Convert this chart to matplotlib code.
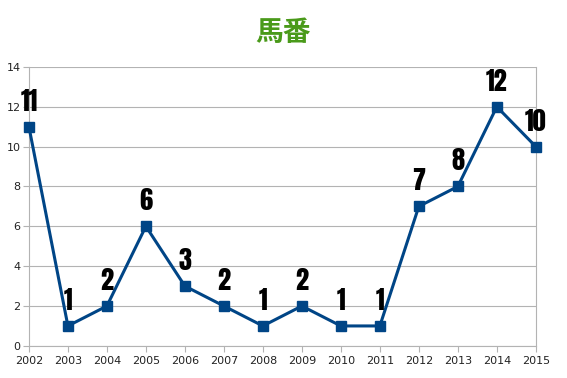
import matplotlib
matplotlib.use("Agg")
import matplotlib.pyplot as plt

years = [2002, 2003, 2004, 2005, 2006, 2007, 2008, 2009, 2010, 2011, 2012, 2013, 2014, 2015]
values = [11, 1, 2, 6, 3, 2, 1, 2, 1, 1, 7, 8, 12, 10]
title = "馬番"

fig = plt.figure(figsize=(5.67, 3.78), dpi=100)
ax = fig.add_axes([0.051, 0.085, 0.894, 0.738])

ax.plot(years, values, color="#004586", lw=2.2, marker="s", markersize=7, zorder=3, clip_on=False)
for x, v in zip(years, values):
    ax.annotate(str(v), (x, v), xytext=(0, 11.5), textcoords="offset points",
                ha="center", va="baseline", fontsize=19,
                family=["Anton", "DejaVu Sans"], color="black", zorder=4)

ax.set_xlim(2002, 2015)
ax.set_ylim(0, 14)
ax.set_xticks(years)
ax.set_yticks(range(0, 15, 2))
ax.grid(axis="y", color="#b3b3b3", lw=0.8)
ax.set_axisbelow(True)
ax.spines["top"].set_visible(False)
for s in ["left", "bottom", "right"]:
    ax.spines[s].set_color("#b3b3b3")
    ax.spines[s].set_linewidth(0.8)
ax.tick_params(axis="both", labelsize=8, colors="#b3b3b3", labelcolor="#222222", length=4, width=0.8)
ax.tick_params(axis="y", length=4, pad=2)
ax.tick_params(axis="x", pad=3)

fig.text(0.5, 0.912, title, ha="center", va="center", fontsize=20, fontweight="bold",
         color="#4a9a1a", family=["Noto Sans CJK JP", "DejaVu Sans"])

fig.savefig("out.png", dpi=100)
